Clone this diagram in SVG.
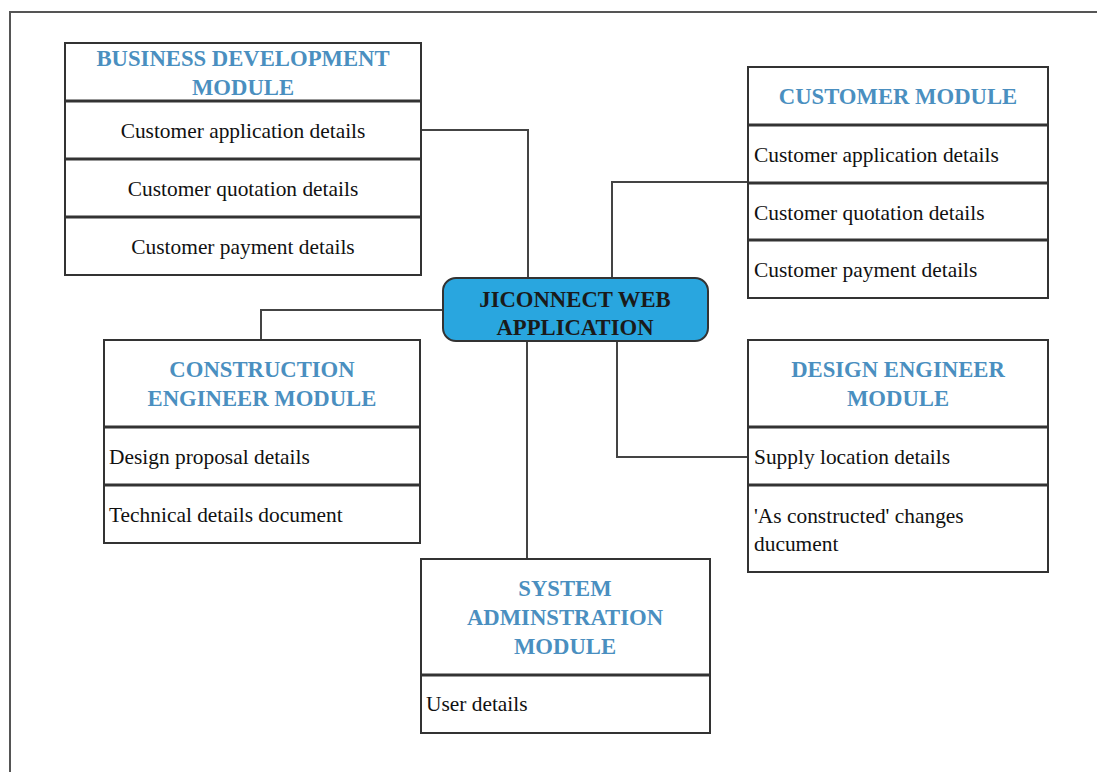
<svg xmlns="http://www.w3.org/2000/svg" width="1097" height="772" viewBox="0 0 1097 772">
  <style>
    text { font-family: 'Liberation Serif', 'Times New Roman', 'DejaVu Serif', serif; }
    .frame { fill: none; stroke: #555; stroke-width: 2; }
    .box { fill: #fff; stroke: #333; stroke-width: 2; }
    .div { stroke: #333; stroke-width: 3; }
    .wire { fill: none; stroke: #444; stroke-width: 2; }
    .head { font-weight: bold; font-size: 22.7px; fill: #4a8fc0; text-anchor: middle; }
    .item { font-size: 21.4px; fill: #111; }
    .mid { text-anchor: middle; }
    .hub { fill: #29a6df; stroke: #333; stroke-width: 2; }
    .hubtxt { font-weight: bold; font-size: 22.7px; fill: #1a1a1a; text-anchor: middle; }
  </style>
  <rect width="1097" height="772" fill="#fff"/>
  <path class="frame" d="M10,772 V12 H1097"/>

  <g id="connectors">
    <path class="wire" d="M421,130 H528 V278"/>
    <path class="wire" d="M612,278 V182 H748"/>
    <path class="wire" d="M443,310 H261 V340"/>
    <path class="wire" d="M527,341 V559"/>
    <path class="wire" d="M617,341 V457 H748"/>
  </g>

  <g id="business-development">
    <rect class="box" x="65" y="43" width="356" height="232"/>
    <line class="div" x1="65" y1="101" x2="421" y2="101"/>
    <line class="div" x1="65" y1="159" x2="421" y2="159"/>
    <line class="div" x1="65" y1="217" x2="421" y2="217"/>
    <text class="head" x="243" y="66">BUSINESS DEVELOPMENT</text>
    <text class="head" x="243" y="95">MODULE</text>
    <text class="item mid" x="243" y="138">Customer application details</text>
    <text class="item mid" x="243" y="196">Customer quotation details</text>
    <text class="item mid" x="243" y="254">Customer payment details</text>
  </g>

  <g id="customer">
    <rect class="box" x="748" y="67" width="300" height="231"/>
    <line class="div" x1="748" y1="125" x2="1048" y2="125"/>
    <line class="div" x1="748" y1="183" x2="1048" y2="183"/>
    <line class="div" x1="748" y1="240" x2="1048" y2="240"/>
    <text class="head" x="898" y="104">CUSTOMER MODULE</text>
    <text class="item" x="754" y="162">Customer application details</text>
    <text class="item" x="754" y="220">Customer quotation details</text>
    <text class="item" x="754" y="277">Customer payment details</text>
  </g>

  <g id="jiconnect">
    <rect class="hub" x="443" y="278" width="265" height="63" rx="13"/>
    <text class="hubtxt" x="575" y="307">JICONNECT WEB</text>
    <text class="hubtxt" x="575" y="335">APPLICATION</text>
  </g>

  <g id="construction-engineer">
    <rect class="box" x="104" y="340" width="316" height="203"/>
    <line class="div" x1="104" y1="427" x2="420" y2="427"/>
    <line class="div" x1="104" y1="485" x2="420" y2="485"/>
    <text class="head" x="262" y="377">CONSTRUCTION</text>
    <text class="head" x="262" y="406">ENGINEER MODULE</text>
    <text class="item" x="109" y="464">Design proposal details</text>
    <text class="item" x="109" y="522">Technical details document</text>
  </g>

  <g id="design-engineer">
    <rect class="box" x="748" y="340" width="300" height="232"/>
    <line class="div" x1="748" y1="427" x2="1048" y2="427"/>
    <line class="div" x1="748" y1="485" x2="1048" y2="485"/>
    <text class="head" x="898" y="377">DESIGN ENGINEER</text>
    <text class="head" x="898" y="406">MODULE</text>
    <text class="item" x="754" y="464">Supply location details</text>
    <text class="item" x="754" y="523">'As constructed' changes</text>
    <text class="item" x="754" y="551">ducument</text>
  </g>

  <g id="system-administration">
    <rect class="box" x="421" y="559" width="289" height="174"/>
    <line class="div" x1="421" y1="675" x2="710" y2="675"/>
    <text class="head" x="565" y="596">SYSTEM</text>
    <text class="head" x="565" y="625">ADMINSTRATION</text>
    <text class="head" x="565" y="654">MODULE</text>
    <text class="item" x="426" y="711">User details</text>
  </g>
</svg>
